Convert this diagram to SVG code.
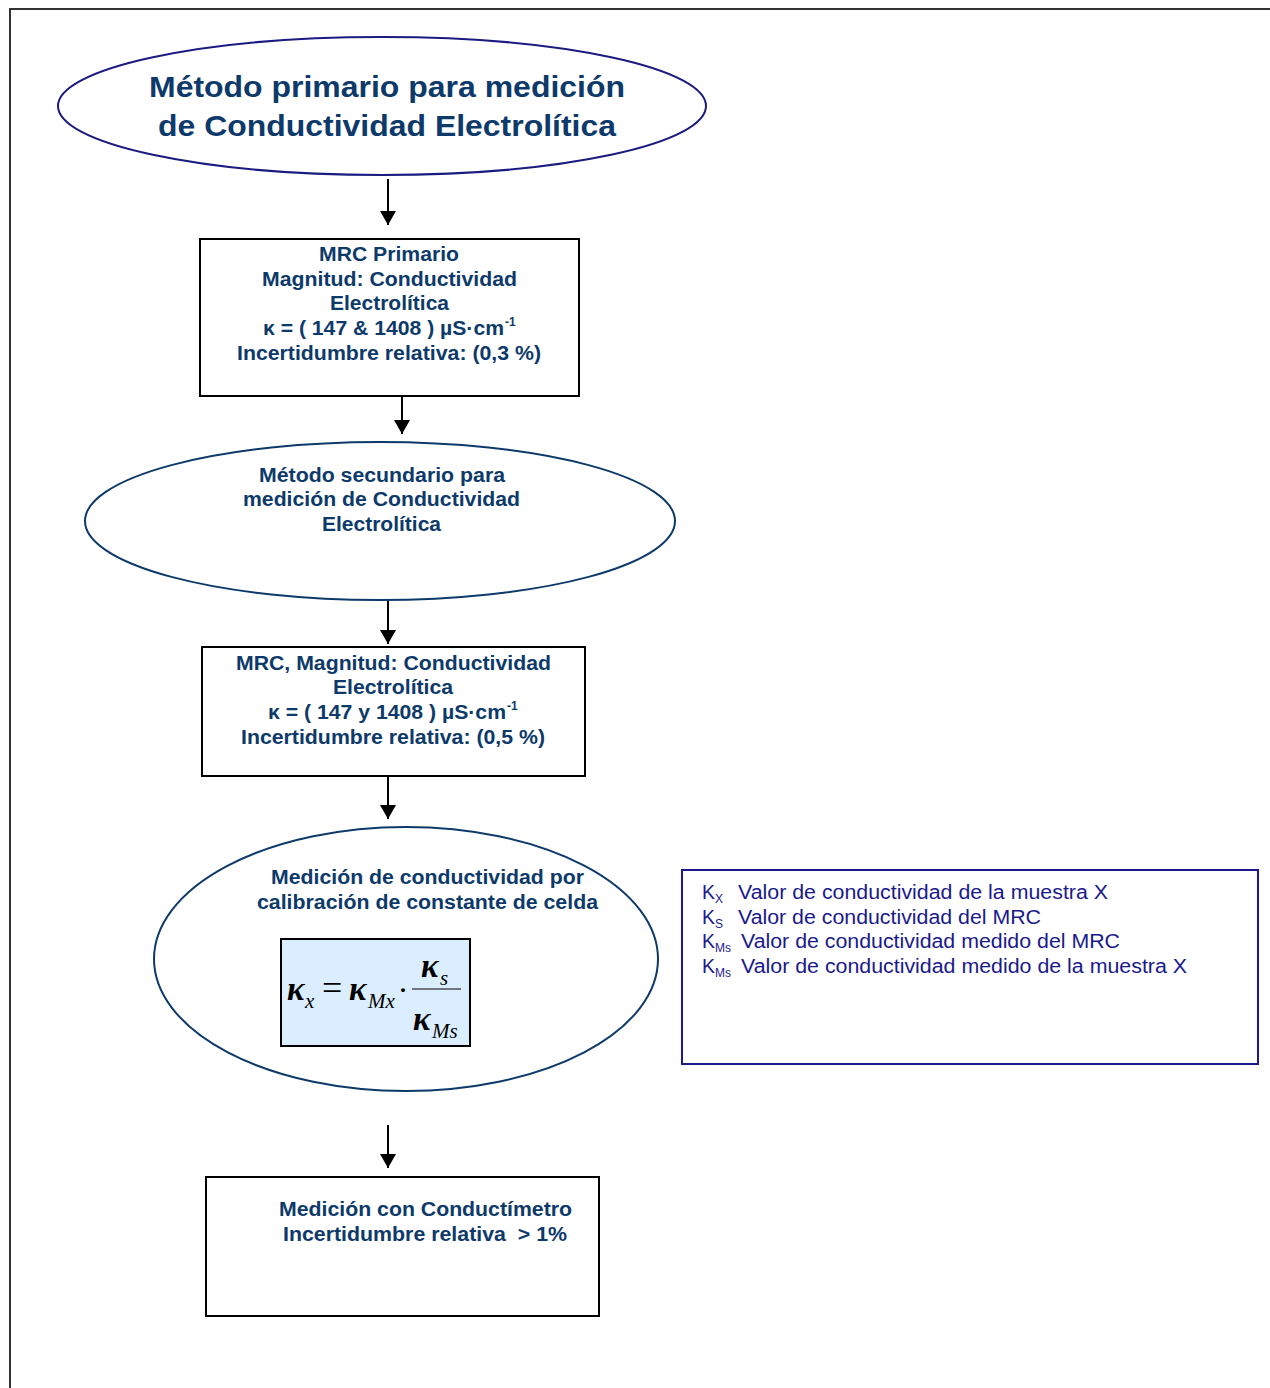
<svg xmlns="http://www.w3.org/2000/svg" width="1270" height="1388" viewBox="0 0 1270 1388">
<defs>
<style>
.b{font-family:"Liberation Sans",Arial,sans-serif;font-weight:bold;fill:#0d3a6a}
.t{font-size:19.5px}
.lg{font-family:"Liberation Sans",Arial,sans-serif;fill:#1a1a8c;font-size:19.5px}
.sub{font-size:12px}
.m{font-family:"Liberation Serif","Times New Roman",serif;font-style:italic;fill:#000}
.box{fill:#fff;stroke:#000;stroke-width:2}
.conn{stroke:#000;stroke-width:2;fill:none}
</style>
<marker id="ah" markerWidth="14" markerHeight="16" refX="14" refY="8" orient="auto" markerUnits="userSpaceOnUse">
<path d="M0,0 L14,8 L0,16 Z" fill="#000"/>
</marker>
</defs>
<rect width="1270" height="1388" fill="#fff"/>
<path d="M10,1388 V9 H1270" fill="none" stroke="#333" stroke-width="2"/>

<g id="connectors">
<line class="conn" x1="388" y1="179" x2="388" y2="225" marker-end="url(#ah)"/>
<line class="conn" x1="402" y1="396" x2="402" y2="434" marker-end="url(#ah)"/>
<line class="conn" x1="388" y1="600" x2="388" y2="644" marker-end="url(#ah)"/>
<line class="conn" x1="388" y1="776" x2="388" y2="819" marker-end="url(#ah)"/>
<line class="conn" x1="388" y1="1125" x2="388" y2="1168" marker-end="url(#ah)"/>
</g>

<g id="n1">
<ellipse cx="382" cy="106" rx="324" ry="69" fill="#fff" stroke="#1a1a80" stroke-width="2"/>
<text class="b" x="149" y="97" font-size="30" textLength="476" lengthAdjust="spacingAndGlyphs">Método primario para medición</text>
<text class="b" x="158" y="136" font-size="30" textLength="458" lengthAdjust="spacingAndGlyphs">de Conductividad Electrolítica</text>
</g>

<g id="n2">
<rect class="box" x="200" y="239" width="379" height="157"/>
<text class="b t" x="319" y="261" textLength="140" lengthAdjust="spacingAndGlyphs">MRC Primario</text>
<text class="b t" x="262" y="286" textLength="255" lengthAdjust="spacingAndGlyphs">Magnitud: Conductividad</text>
<text class="b t" x="330" y="310" textLength="119" lengthAdjust="spacingAndGlyphs">Electrolítica</text>
<text class="b t" x="263" y="335" textLength="241" lengthAdjust="spacingAndGlyphs">κ = ( 147 &amp; 1408 ) µS·cm</text>
<text class="b sub" x="505" y="326">-1</text>
<text class="b t" x="237" y="360" textLength="304" lengthAdjust="spacingAndGlyphs">Incertidumbre relativa: (0,3 %)</text>
</g>

<g id="n3">
<ellipse cx="380" cy="521" rx="295" ry="79" fill="#fff" stroke="#0d3a6a" stroke-width="2"/>
<text class="b t" x="259" y="482" textLength="246" lengthAdjust="spacingAndGlyphs">Método secundario para</text>
<text class="b t" x="243" y="506" textLength="277" lengthAdjust="spacingAndGlyphs">medición de Conductividad</text>
<text class="b t" x="322" y="531" textLength="119" lengthAdjust="spacingAndGlyphs">Electrolítica</text>
</g>

<g id="n4">
<rect class="box" x="202" y="647" width="383" height="129"/>
<text class="b t" x="236" y="670" textLength="315" lengthAdjust="spacingAndGlyphs">MRC, Magnitud: Conductividad</text>
<text class="b t" x="333" y="694" textLength="120" lengthAdjust="spacingAndGlyphs">Electrolítica</text>
<text class="b t" x="268" y="719" textLength="238" lengthAdjust="spacingAndGlyphs">κ = ( 147 y 1408 ) µS·cm</text>
<text class="b sub" x="507" y="710">-1</text>
<text class="b t" x="241" y="744" textLength="304" lengthAdjust="spacingAndGlyphs">Incertidumbre relativa: (0,5 %)</text>
</g>

<g id="n5">
<ellipse cx="406" cy="959" rx="252" ry="132" fill="#fff" stroke="#0d3a6a" stroke-width="2"/>
<text class="b t" x="271" y="884" textLength="313" lengthAdjust="spacingAndGlyphs">Medición de conductividad por</text>
<text class="b t" x="257" y="909" textLength="341" lengthAdjust="spacingAndGlyphs">calibración de constante de celda</text>
<rect x="281" y="939" width="189" height="107" fill="#dbeeff" stroke="#000" stroke-width="2"/>
<text class="m" x="287" y="1000" font-size="33" font-weight="bold">κ</text>
<text class="m" x="305" y="1008" font-size="21">x</text>
<text x="322" y="1000" font-size="36" font-family="Liberation Serif,serif">=</text>
<text class="m" x="349" y="1000" font-size="33" font-weight="bold">κ</text>
<text class="m" x="368" y="1008" font-size="21">Mx</text>
<text x="399" y="998" font-size="24" font-family="Liberation Serif,serif" font-weight="bold">·</text>
<text class="m" x="421" y="977" font-size="33" font-weight="bold">κ</text>
<text class="m" x="440" y="985" font-size="21">s</text>
<line x1="412" y1="989" x2="461" y2="989" stroke="#000" stroke-width="1.2"/>
<text class="m" x="413" y="1030" font-size="33" font-weight="bold">κ</text>
<text class="m" x="432" y="1038" font-size="21">Ms</text>
</g>

<g id="legend">
<rect x="682" y="870" width="576" height="194" fill="#fff" stroke="#1a1a8c" stroke-width="2"/>
<text class="lg" x="702" y="899">K<tspan class="sub" dy="4">X</tspan></text>
<text class="lg" x="738" y="899" textLength="370" lengthAdjust="spacingAndGlyphs">Valor de conductividad de la muestra X</text>
<text class="lg" x="702" y="924">K<tspan class="sub" dy="4">S</tspan></text>
<text class="lg" x="738" y="924" textLength="303" lengthAdjust="spacingAndGlyphs">Valor de conductividad del MRC</text>
<text class="lg" x="702" y="948">K<tspan class="sub" dy="4">Ms</tspan></text>
<text class="lg" x="741" y="948" textLength="379" lengthAdjust="spacingAndGlyphs">Valor de conductividad medido del MRC</text>
<text class="lg" x="702" y="973">K<tspan class="sub" dy="4">Ms</tspan></text>
<text class="lg" x="741" y="973" textLength="446" lengthAdjust="spacingAndGlyphs">Valor de conductividad medido de la muestra X</text>
</g>

<g id="n6">
<rect class="box" x="206" y="1177" width="393" height="139"/>
<text class="b t" x="279" y="1216" textLength="293" lengthAdjust="spacingAndGlyphs">Medición con Conductímetro</text>
<text class="b t" x="283" y="1241" textLength="284" lengthAdjust="spacingAndGlyphs" xml:space="preserve">Incertidumbre relativa  &gt; 1%</text>
</g>
</svg>
